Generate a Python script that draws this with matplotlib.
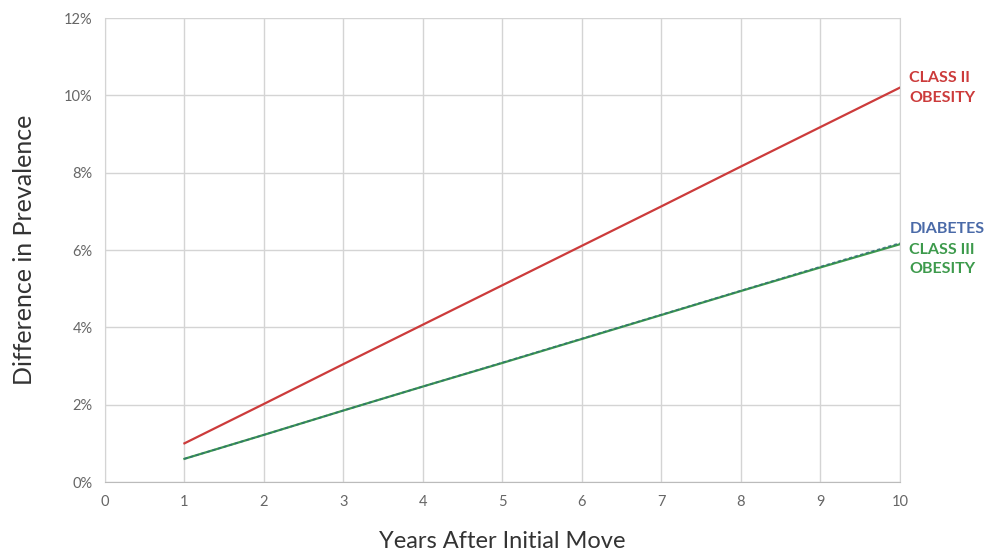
import numpy as np
import matplotlib.pyplot as plt

plt.rcParams['font.family'] = ['Lato', 'DejaVu Sans']

# years after initial move
years = np.arange(1, 11)
# difference in prevalence (%)
class2_obesity = [1.0, 2.02, 3.05, 4.07, 5.09, 6.11, 7.13, 8.16, 9.18, 10.2]
class3_obesity = [0.6, 1.22, 1.85, 2.47, 3.08, 3.7, 4.32, 4.94, 5.55, 6.15]
diabetes = [0.6, 1.22, 1.85, 2.47, 3.09, 3.71, 4.33, 4.95, 5.57, 6.18]

red = '#cc3b3b'
green = '#3d9a4c'
blue = '#4a6aa8'
grid_c = '#d4d4d4'
tick_c = '#666666'

fig = plt.figure(figsize=(9.9, 5.55), dpi=100)
ax = fig.add_axes([0.106, 0.1315, 0.803, 0.836])

ax.plot(years, class2_obesity, color=red, lw=1.6)
ax.plot(years, class3_obesity, color=green, lw=1.6)
ax.plot(years, diabetes, color='#2f6b78', lw=1.2, ls=(0, (2, 1.5)), alpha=0.8)

ax.set_xlim(0, 10)
ax.set_ylim(0, 12)
ax.set_xticks(range(0, 11))
ax.set_yticks(range(0, 13, 2))
ax.set_yticklabels([f'{v}%' for v in range(0, 13, 2)])
ax.grid(True, color=grid_c, lw=1)
ax.set_axisbelow(True)
ax.spines['top'].set_visible(False)
for s in ['left', 'right']:
    ax.spines[s].set_color(grid_c)
ax.spines['bottom'].set_color('#bbbbbb')
ax.tick_params(length=0, colors=tick_c, labelsize=10.5, pad=9)

ax.set_ylabel('Difference in Prevalence', fontsize=18, color='#333333', labelpad=20)
ax.set_xlabel('Years After Initial Move', fontsize=17, color='#333333', labelpad=16)

lx = 10.12
kw = dict(fontsize=11.5, fontweight='bold', va='center', clip_on=False)
ax.text(lx, class2_obesity[-1] + 0.26, 'CLASS II', color=red, **kw)
ax.text(lx, class2_obesity[-1] - 0.26, 'OBESITY', color=red, **kw)
ax.text(lx, 6.55, 'DIABETES', color=blue, **kw)
ax.text(lx, 6.0, 'CLASS III', color=green, **kw)
ax.text(lx, 5.5, 'OBESITY', color=green, **kw)

fig.savefig('out.png', dpi=100)
